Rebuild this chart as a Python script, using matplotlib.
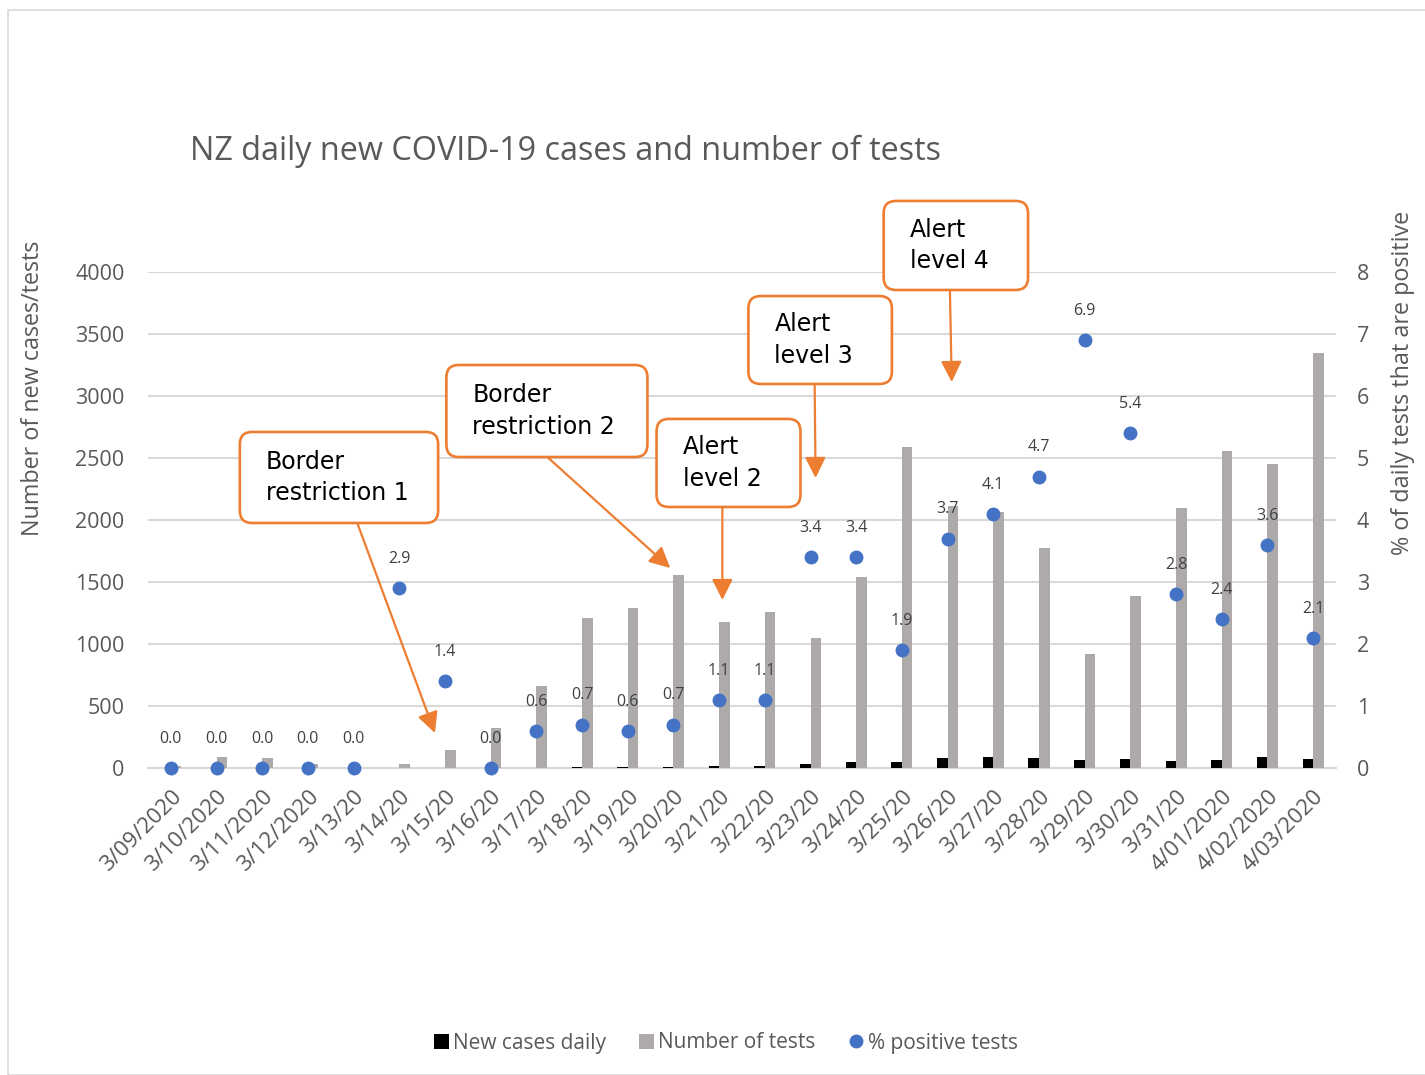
import numpy as np
import matplotlib
matplotlib.use("Agg")
import matplotlib.pyplot as plt
from matplotlib.patches import FancyBboxPatch, Rectangle
from matplotlib.lines import Line2D
from matplotlib.patches import Patch

# data
dates = ["3/09/2020", "3/10/2020", "3/11/2020", "3/12/2020", "3/13/20", "3/14/20",
         "3/15/20", "3/16/20", "3/17/20", "3/18/20", "3/19/20", "3/20/20", "3/21/20",
         "3/22/20", "3/23/20", "3/24/20", "3/25/20", "3/26/20", "3/27/20", "3/28/20",
         "3/29/20", "3/30/20", "3/31/20", "4/01/2020", "4/02/2020", "4/03/2020"]
new_cases = [0, 0, 0, 0, 0, 1, 2, 0, 4, 8, 8, 11, 13, 14, 36, 52, 50, 78, 85, 83,
             63, 75, 59, 62, 88, 70]
tests = [16, 86, 80, 32, 2, 35, 143, 325, 661, 1210, 1290, 1556, 1177, 1258, 1048,
         1540, 2589, 2113, 2065, 1774, 919, 1387, 2097, 2556, 2452, 3347]
pct_positive = [0.0, 0.0, 0.0, 0.0, 0.0, 2.9, 1.4, 0.0, 0.6, 0.7, 0.6, 0.7, 1.1, 1.1,
                3.4, 3.4, 1.9, 3.7, 4.1, 4.7, 6.9, 5.4, 2.8, 2.4, 3.6, 2.1]

# events: text, box (x0, y0, x1, y1) in data units, arrow start, arrow tip
events = [
    ("Border\nrestriction 1", (1.51, 1976, 5.85, 2710), (4.08, 1976), (5.78, 282)),
    ("Border\nrestriction 2", (6.03, 2508, 10.43, 3250), (8.24, 2508), (10.93, 1613)),
    ("Alert\nlevel 2", (10.63, 2105, 13.78, 2815), (12.07, 2105), (12.07, 1355)),
    ("Alert\nlevel 3", (12.64, 3097, 15.78, 3806), (14.09, 3097), (14.11, 2339)),
    ("Alert\nlevel 4", (15.60, 3855, 18.76, 4573), (17.05, 3855), (17.09, 3113)),
]

plt.rcParams['font.family'] = ['Open Sans', 'DejaVu Sans']
TXT = '#595959'
ORANGE = '#ED7D31'
GRID = '#d9d9d9'

W, H = 1425, 1075
fig = plt.figure(figsize=(W / 100, H / 100), dpi=100)
fig.patches.append(Rectangle((8 / W, 0), 1.2, 1 - 10 / H, transform=fig.transFigure,
                             fill=False, edgecolor=GRID, linewidth=1.2))

ax = fig.add_axes([148 / W, 1 - 768 / H, (1336 - 148) / W, (768 - 272) / H])
ax2 = ax.twinx()

x = np.arange(len(dates))
bw = 0.23
ax.bar(x - bw / 2, new_cases, width=bw, color='black', zorder=3)
ax.bar(x + bw / 2, tests, width=bw, color='#AEAAAA', zorder=3)

ax.set_xlim(-0.5, len(dates) - 0.5)
ax.set_ylim(0, 4000)
ax.set_yticks(np.arange(0, 4001, 500))
ax.grid(axis='y', color=GRID, linewidth=1.5, zorder=0)
ax.set_axisbelow(True)
for s in ['top', 'right', 'left']:
    ax.spines[s].set_visible(False)
ax.spines['bottom'].set_color(GRID)
ax.spines['bottom'].set_linewidth(1.5)
ax.tick_params(axis='both', length=0, labelsize=15.5, labelcolor=TXT)
ax.tick_params(axis='y', pad=17)
ax.set_xticks(x)
ax.set_xticklabels(dates, rotation=45, ha='right', rotation_mode='anchor', fontsize=16)
ax.tick_params(axis='x', pad=13)

ax2.plot(x, pct_positive, 'o', color='#4472C4', markersize=9, zorder=5, clip_on=False)
ax2.set_ylim(0, 8)
ax2.set_yticks(range(0, 9))
for s in ax2.spines.values():
    s.set_visible(False)
ax2.tick_params(axis='y', length=0, labelsize=15.5, labelcolor=TXT, pad=15)
for xi, v in zip(x, pct_positive):
    ax2.annotate(f"{v:.1f}", (xi, v), xytext=(0, 21), textcoords='offset points',
                 ha='center', va='center', fontsize=11.5, color='#404040')

# event callouts
for label, (bx0, by0, bx1, by1), start, tip in events:
    box = FancyBboxPatch((bx0, by0), bx1 - bx0, by1 - by0,
                         boxstyle="round,pad=0,rounding_size=0.27",
                         mutation_aspect=368, facecolor='white', edgecolor=ORANGE,
                         linewidth=1.9, clip_on=False, zorder=6,
                         transform=ax.transData)
    ax.add_patch(box)
    ax2.text(bx0 + 0.57, (by0 + by1) / 2 / 500, label, ha='left', va='center',
             fontsize=17, family='DejaVu Sans', linespacing=1.4, color='black',
             zorder=7, clip_on=False)
    ax2.annotate('', xy=(tip[0], tip[1] / 500), xytext=(start[0], start[1] / 500),
                 arrowprops=dict(arrowstyle='-|>,head_length=0.7,head_width=0.35',
                                 color=ORANGE, lw=1.6, mutation_scale=18,
                                 shrinkA=0, shrinkB=0), zorder=6)

fig.text(190 / W, 1 - 151 / H, "NZ daily new COVID-19 cases and number of tests",
         fontsize=23.3, color=TXT, ha='left', va='center')
fig.text(33 / W, 1 - 388 / H, "Number of new cases/tests", rotation=90,
         fontsize=16.8, color=TXT, ha='center', va='center')
fig.text(1403 / W, 1 - 383 / H, "% of daily tests that are positive", rotation=90,
         fontsize=16.8, color=TXT, ha='center', va='center')

handles = [Patch(facecolor='black'), Patch(facecolor='#AEAAAA'),
           Line2D([], [], marker='o', linestyle='none', color='#4472C4', markersize=9)]
fig.legend(handles, ["New cases daily", "Number of tests", "% positive tests"],
           loc='center', bbox_to_anchor=(726 / W, 1 - 1043 / H), ncol=3, frameon=False,
           fontsize=15, labelcolor=TXT, handlelength=0.7, handleheight=0.7,
           handletextpad=0.2, columnspacing=1.6)

fig.savefig("out.png", dpi=100)
